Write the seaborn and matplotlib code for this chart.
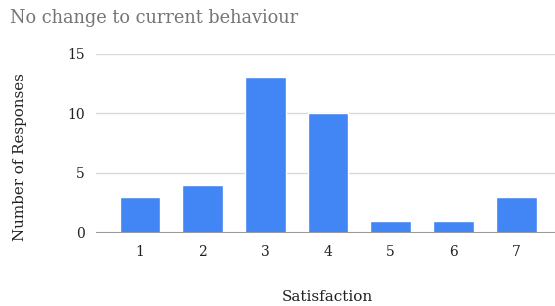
import matplotlib
matplotlib.use("Agg")
import matplotlib.pyplot as plt
import seaborn as sns
import pandas as pd

categories = ["1", "2", "3", "4", "5", "6", "7"]
responses = [3, 4, 13, 10, 1, 1, 3]
yticks = [0, 5, 10, 15]

sns.set_theme(style="white")
plt.rcParams['font.family'] = ['DejaVu Serif']

df = pd.DataFrame({"Satisfaction": categories, "Responses": responses})

fig = plt.figure(figsize=(5.55, 3.06), dpi=100)
ax = fig.add_axes([0.173, 0.2395, 0.827, 0.5855])

sns.barplot(data=df, x="Satisfaction", y="Responses", color="#4285F4",
            saturation=1, width=0.65, ax=ax, zorder=3)

ax.set_xlim(-0.70, 6.62)
ax.set_ylim(0, 15)
ax.set_yticks(yticks)
ax.set_yticklabels([str(v) for v in yticks])
for v in yticks[1:]:
    ax.axhline(v, color="#d9d9d9", lw=1, zorder=1)
ax.axhline(0, color="#999999", lw=1.5, zorder=4)

for s in ax.spines.values():
    s.set_visible(False)
ax.tick_params(axis="both", length=0, labelsize=10, colors="#222222")
ax.tick_params(axis="x", pad=9)
ax.tick_params(axis="y", pad=8)

ax.set_xlabel("Satisfaction", fontsize=11, color="#222222", va="center")
ax.xaxis.set_label_coords(0.503, -0.36)
ax.set_ylabel("Number of Responses", fontsize=10.8, color="#222222", va="center")
ax.yaxis.set_label_coords(-0.166, 0.423)

fig.text(0.018, 0.94, "No change to current behaviour", fontsize=12.8,
         color="#757575", ha="left", va="center")

fig.savefig("out.png", dpi=100)
